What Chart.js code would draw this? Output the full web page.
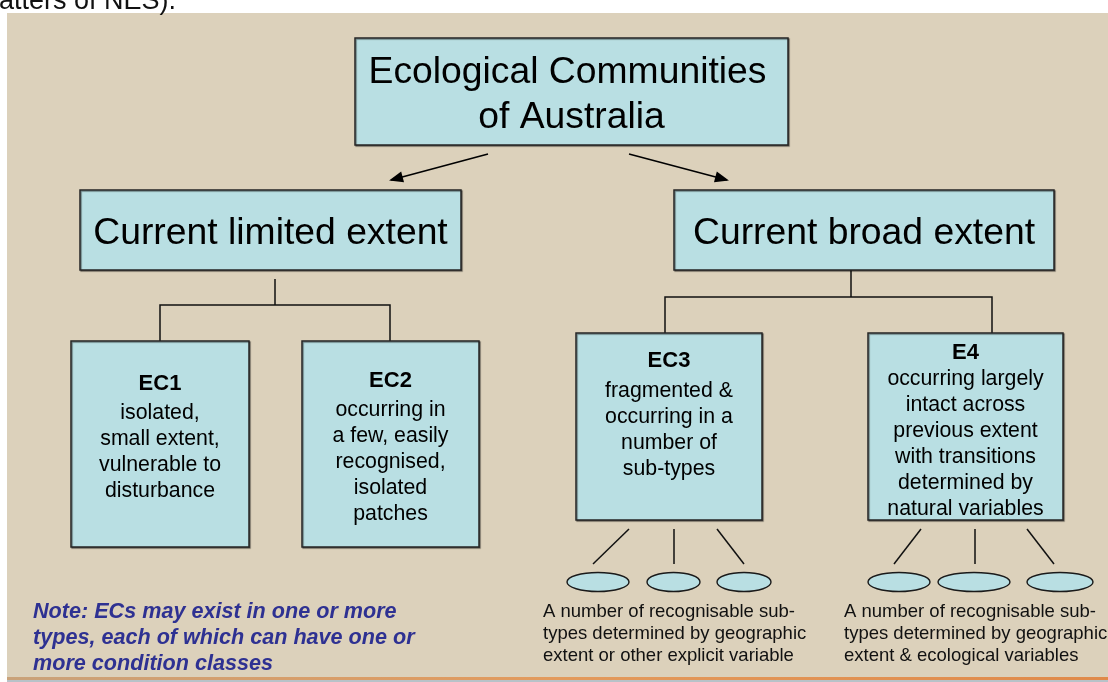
<!DOCTYPE html>
<html>
<head>
<meta charset="utf-8">
<title>Ecological Communities of Australia</title>
<script src="https://cdn.jsdelivr.net/npm/chart.js@4/dist/chart.umd.min.js"></script>
<style>
  html, body { margin: 0; padding: 0; background: #fff; }
  #wrap { width: 1108px; height: 682px; }
</style>
</head>
<body>
<div id="wrap"><canvas id="diagram" width="1108" height="682"></canvas></div>
<script>
// ── Content ──
const headerFragment = 'atters of NES).';
const rootTitle = ['Ecological Communities', 'of Australia'];
const extentTitles = ['Current limited extent', 'Current broad extent'];
const classCodes = ['EC1', 'EC2', 'EC3', 'E4'];
const classText = [
    ['isolated,', 'small extent,', 'vulnerable to', 'disturbance'],
    ['occurring in', 'a few, easily', 'recognised,', 'isolated', 'patches'],
    ['fragmented &', 'occurring in a', 'number of', 'sub-types'],
    ['occurring largely', 'intact across', 'previous extent', 'with transitions', 'determined by', 'natural variables']
];
const subtypeCaptions = [
    ['A number of recognisable sub-', 'types determined by geographic', 'extent or other explicit variable'],
    ['A number of recognisable sub-', 'types determined by geographic', 'extent & ecological variables']
];
const noteLines = [
    'Note: ECs may exist in one or more',
    'types, each of which can have one or',
    'more condition classes'
];

// ── Layout (axis units = page pixels) ──
const rootBox = { x0: 355, y0: 38, x1: 788, y1: 145, lineY: [73, 118] };
const extentBoxes = [
    { x0: 80, y0: 190, x1: 461, y1: 270, lineY: 234 },
    { x0: 674, y0: 190, x1: 1054, y1: 270, lineY: 234 }
];
const classBoxes = [
    { x0: 71, y0: 341, x1: 249, y1: 547, titleY: 384, firstY: 413.5, step: 26 },
    { x0: 302, y0: 341, x1: 479, y1: 547, titleY: 381, firstY: 410.5, step: 26 },
    { x0: 576, y0: 333, x1: 762, y1: 520, titleY: 361, firstY: 391.5, step: 26 },
    { x0: 868, y0: 333, x1: 1063, y1: 520, titleY: 353, firstY: 379, step: 26 }
];
const arrows = [
    [{ x: 488, y: 154 }, { x: 391, y: 180 }],
    [{ x: 629, y: 154 }, { x: 727, y: 180 }]
];
const connectors = [
    [{ x: 275, y: 279 }, { x: 275, y: 305 }],
    [{ x: 160, y: 341 }, { x: 160, y: 305 }, { x: 390, y: 305 }, { x: 390, y: 341 }],
    [{ x: 851, y: 270 }, { x: 851, y: 297 }],
    [{ x: 665, y: 333 }, { x: 665, y: 297 }, { x: 992, y: 297 }, { x: 992, y: 333 }],
    [{ x: 629, y: 529 }, { x: 593, y: 564 }],
    [{ x: 674, y: 529 }, { x: 674, y: 564 }],
    [{ x: 717, y: 529 }, { x: 744, y: 564 }],
    [{ x: 921, y: 529 }, { x: 894, y: 564 }],
    [{ x: 975, y: 529 }, { x: 975, y: 564 }],
    [{ x: 1027, y: 529 }, { x: 1054, y: 564 }]
];
const subtypeEllipses = [
    { x: 598, y: 582, rx: 31, ry: 9.5 },
    { x: 673.5, y: 582, rx: 26.5, ry: 9.5 },
    { x: 744, y: 582, rx: 27, ry: 9.5 },
    { x: 899, y: 582, rx: 31, ry: 9.5 },
    { x: 974, y: 582, rx: 36, ry: 9.5 },
    { x: 1060, y: 582, rx: 33, ry: 9.5 }
];
const captionPos = [{ x: 543 }, { x: 844 }];
const captionY = [612, 634, 656];
const noteY = [612, 638, 664];

const FONT = '"Liberation Sans", Arial, sans-serif';
const BEIGE = '#dcd1bb';
const BOX_FILL = '#b9dfe3';
const NOTE_BLUE = '#2e3192';

// ── helpers to map layout through the chart scales ──
function px(chart, x) { return chart.scales.x.getPixelForValue(x); }
function py(chart, y) { return chart.scales.y.getPixelForValue(y); }

function drawBox(chart, b) {
    const ctx = chart.ctx;
    const x0 = px(chart, b.x0), y0 = py(chart, b.y0);
    const w = px(chart, b.x1) - x0, h = py(chart, b.y1) - y0;
    ctx.save();
    ctx.fillStyle = BOX_FILL;
    ctx.shadowColor = 'rgba(0,0,0,0.45)';
    ctx.shadowOffsetX = 1;
    ctx.shadowOffsetY = 1;
    ctx.shadowBlur = 1;
    ctx.fillRect(x0, y0, w, h);
    ctx.strokeStyle = '#262626';
    ctx.lineWidth = 1.5;
    ctx.strokeRect(x0, y0, w, h);
    ctx.restore();
}

function drawText(chart, text, x, y, font, color, align) {
    const ctx = chart.ctx;
    ctx.save();
    ctx.font = font;
    ctx.fillStyle = color;
    ctx.textAlign = align || 'center';
    ctx.textBaseline = 'middle';
    ctx.fillText(text, px(chart, x), py(chart, y));
    ctx.restore();
}

const backdropPlugin = {
    id: 'backdrop',
    beforeDraw(chart) {
        const ctx = chart.ctx;
        ctx.save();
        ctx.fillStyle = '#ffffff';
        ctx.fillRect(0, 0, chart.width, chart.height);
        // beige slide panel
        ctx.fillStyle = BEIGE;
        ctx.fillRect(px(chart, 7), py(chart, 13), px(chart, 1108) - px(chart, 7), py(chart, 678) - py(chart, 13));
        // orange rule at the bottom
        const g = ctx.createLinearGradient(px(chart, 7), 0, px(chart, 1108), 0);
        g.addColorStop(0, '#c9a27a');
        g.addColorStop(0.5, '#e39a5c');
        g.addColorStop(1, '#e08a4a');
        ctx.fillStyle = g;
        ctx.fillRect(px(chart, 7), py(chart, 677), px(chart, 1108) - px(chart, 7), 3);
        ctx.fillStyle = '#b8c2c8';
        ctx.fillRect(px(chart, 7), py(chart, 680), px(chart, 1108) - px(chart, 7), 2);
        ctx.restore();
        // clipped header text from the slide above
        drawText(chart, headerFragment, -1, 2, '27px ' + FONT, '#111', 'left');
    }
};

const nodesPlugin = {
    id: 'nodes',
    afterDatasetsDraw(chart) {
        const ctx = chart.ctx;

        // arrow heads at the end of each arrow dataset
        chart.data.datasets.forEach(ds => {
            if (!ds.arrow) return;
            const pts = ds.data;
            const a = pts[pts.length - 2], b = pts[pts.length - 1];
            const ax = px(chart, a.x), ay = py(chart, a.y);
            const bx = px(chart, b.x), by = py(chart, b.y);
            const ang = Math.atan2(by - ay, bx - ax);
            ctx.save();
            ctx.translate(bx, by);
            ctx.rotate(ang);
            ctx.fillStyle = '#000';
            ctx.beginPath();
            ctx.moveTo(2, 0);
            ctx.lineTo(-12, -5.5);
            ctx.lineTo(-12, 5.5);
            ctx.closePath();
            ctx.fill();
            ctx.restore();
        });

        // root box
        drawBox(chart, rootBox);
        const cxRoot = (rootBox.x0 + rootBox.x1) / 2;
        rootTitle.forEach((t, i) => drawText(chart, t, cxRoot - (i === 0 ? 4 : 0), rootBox.lineY[i], '37.3px ' + FONT, '#000'));

        // extent boxes
        extentBoxes.forEach((b, i) => {
            drawBox(chart, b);
            drawText(chart, extentTitles[i], (b.x0 + b.x1) / 2, b.lineY, '37.3px ' + FONT, '#000');
        });

        // class boxes
        classBoxes.forEach((b, i) => {
            drawBox(chart, b);
            const cx = (b.x0 + b.x1) / 2;
            drawText(chart, classCodes[i], cx, b.titleY, 'bold 22px ' + FONT, '#000');
            classText[i].forEach((t, j) => drawText(chart, t, cx, b.firstY + j * b.step, '21.3px ' + FONT, '#000'));
        });

        // sub-type ellipses
        subtypeEllipses.forEach(e => {
            const cx = px(chart, e.x), cy = py(chart, e.y);
            const rx = px(chart, e.x + e.rx) - cx, ry = py(chart, e.y + e.ry) - cy;
            ctx.save();
            ctx.beginPath();
            ctx.ellipse(cx, cy, rx, Math.abs(ry), 0, 0, Math.PI * 2);
            ctx.fillStyle = BOX_FILL;
            ctx.fill();
            ctx.strokeStyle = '#1a1a1a';
            ctx.lineWidth = 1.4;
            ctx.stroke();
            ctx.restore();
        });

        // captions
        subtypeCaptions.forEach((lines, i) => {
            lines.forEach((t, j) => drawText(chart, t, captionPos[i].x, captionY[j], '18.5px ' + FONT, '#111', 'left'));
        });

        // note
        noteLines.forEach((t, j) => drawText(chart, t, 33, noteY[j], 'italic bold 21.6px ' + FONT, NOTE_BLUE, 'left'));
    }
};

const lineDatasets = connectors.map(pts => ({
    data: pts,
    showLine: true,
    borderColor: '#111',
    borderWidth: 1.5,
    pointRadius: 0,
    fill: false,
    tension: 0
}));
const arrowDatasets = arrows.map(pts => ({
    data: pts,
    arrow: true,
    showLine: true,
    borderColor: '#000',
    borderWidth: 1.6,
    pointRadius: 0,
    fill: false,
    tension: 0
}));

new Chart(document.getElementById('diagram').getContext('2d'), {
    type: 'scatter',
    data: { datasets: lineDatasets.concat(arrowDatasets) },
    options: {
        responsive: false,
        animation: false,
        layout: { padding: 0 },
        plugins: { legend: { display: false }, tooltip: { enabled: false } },
        events: [],
        scales: {
            x: { type: 'linear', min: 0, max: 1108, display: false },
            y: { type: 'linear', min: 0, max: 682, reverse: true, display: false }
        }
    },
    plugins: [backdropPlugin, nodesPlugin]
});
</script>
</body>
</html>
